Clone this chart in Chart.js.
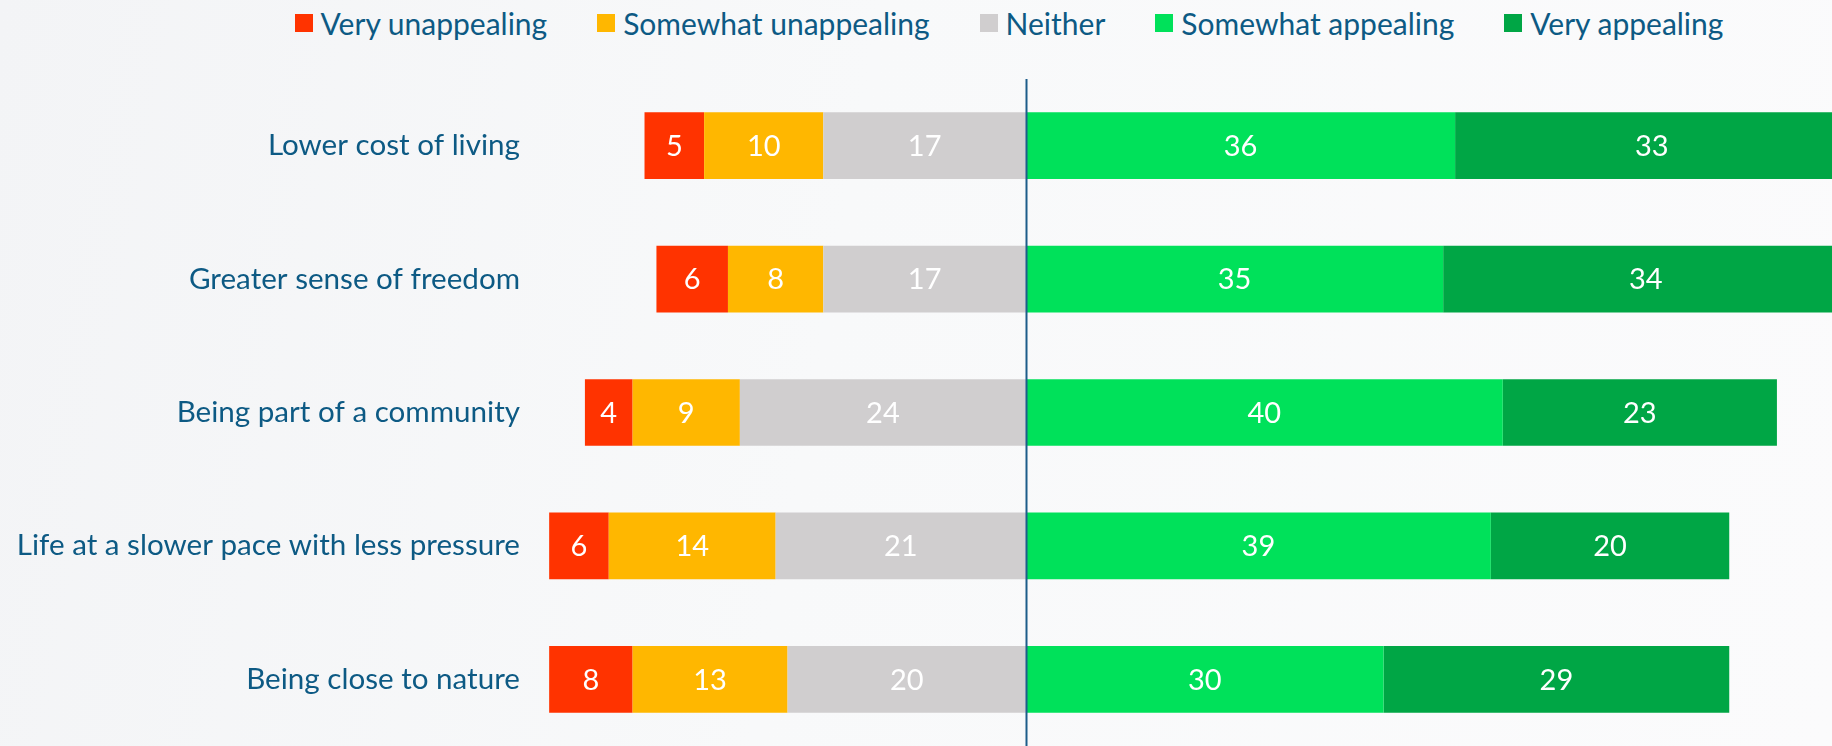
<!DOCTYPE html>
<html>
<head>
<meta charset="utf-8">
<script src="https://cdn.jsdelivr.net/npm/chart.js@4/dist/chart.umd.min.js"></script>
<style>
  html, body { margin: 0; padding: 0; }
  body {
    width: 1832px; height: 746px; overflow: hidden; position: relative;
    background: linear-gradient(100deg, #f3f4f6 0%, #f8f9fa 45%, #fbfbfc 100%);
    font-family: Lato, "Open Sans", sans-serif;
  }
  #legend {
    position: absolute; left: 186px; right: 0; top: 3px; height: 40px;
    display: flex; justify-content: center; align-items: center; gap: 50px;
    color: #0d5a84; font-size: 30px;
  }
  .item { display: flex; align-items: center; white-space: nowrap; }
  .swatch { width: 18px; height: 18px; margin-right: 8px; }
  #wrap { position: absolute; left: 0; top: 0; width: 1832px; height: 746px; }
</style>
</head>
<body>
<div id="legend"></div>
<div id="wrap"><canvas id="chart"></canvas></div>
<script>
// categories, top to bottom
const categories = [
  'Lower cost of living',
  'Greater sense of freedom',
  'Being part of a community',
  'Life at a slower pace with less pressure',
  'Being close to nature'
];

// bar lengths (percent)
const veryUnappealing     = [5, 6, 4, 5, 7];
const somewhatUnappealing = [10, 8, 9, 14, 13];
const neither             = [17, 17, 24, 21, 20];
const somewhatAppealing   = [36, 35, 40, 39, 30];
const veryAppealing       = [33, 34, 23, 20, 29];

// numbers printed on the red segments (rounded differently in the source)
const veryUnappealingShown = [5, 6, 4, 6, 8];

const seriesNames  = ['Very unappealing', 'Somewhat unappealing', 'Neither', 'Somewhat appealing', 'Very appealing'];
const seriesColors = ['#ff3300', '#ffb700', '#d0cecf', '#00e15a', '#00a645'];

const TEXT_COLOR = '#0d5a84';
const FONT = 'Lato, "Open Sans", sans-serif';

// html legend
const legendEl = document.getElementById('legend');
seriesNames.forEach((name, i) => {
    legendEl.innerHTML += `<div class="item"><span class="swatch" style="background:${seriesColors[i]}"></span>${name}</div>`;
});

// negatives stack outward from zero in dataset order, so Neither goes first
const datasets = [
    { label: seriesNames[2], data: neither.map(v => -v), shown: neither, backgroundColor: seriesColors[2] },
    { label: seriesNames[1], data: somewhatUnappealing.map(v => -v), shown: somewhatUnappealing, backgroundColor: seriesColors[1] },
    { label: seriesNames[0], data: veryUnappealing.map(v => -v), shown: veryUnappealingShown, backgroundColor: seriesColors[0] },
    { label: seriesNames[3], data: somewhatAppealing, shown: somewhatAppealing, backgroundColor: seriesColors[3] },
    { label: seriesNames[4], data: veryAppealing, shown: veryAppealing, backgroundColor: seriesColors[4] }
];
datasets.forEach(d => { d.barPercentage = 1; d.categoryPercentage = 0.5; d.borderWidth = 0; });

const barLabels = {
    id: 'barLabels',
    afterDatasetsDraw(chart) {
        const ctx = chart.ctx;
        ctx.save();
        ctx.fillStyle = '#ffffff';
        ctx.font = `29px ${FONT}`;
        ctx.textAlign = 'center';
        ctx.textBaseline = 'middle';
        chart.data.datasets.forEach((ds, di) => {
            chart.getDatasetMeta(di).data.forEach((bar, i) => {
                const cx = (bar.x + bar.base) / 2;
                ctx.fillText(String(ds.shown[i]), cx, bar.y + 1);
            });
        });
        ctx.restore();
    }
};

const zeroLine = {
    id: 'zeroLine',
    afterDatasetsDraw(chart) {
        const x = Math.round(chart.scales.x.getPixelForValue(0)) + 0.5;
        const { top, bottom } = chart.chartArea;
        const ctx = chart.ctx;
        ctx.save();
        ctx.strokeStyle = '#1d5d8a';
        ctx.lineWidth = 2;
        ctx.beginPath();
        ctx.moveTo(x, top);
        ctx.lineTo(x, bottom);
        ctx.stroke();
        ctx.restore();
    }
};

new Chart(document.getElementById('chart'), {
    type: 'bar',
    data: { labels: categories, datasets },
    options: {
        indexAxis: 'y',
        responsive: true,
        maintainAspectRatio: false,
        animation: false,
        layout: { padding: { top: 79, left: 0, right: 0, bottom: 0 } },
        plugins: { legend: { display: false }, tooltip: { enabled: false } },
        scales: {
            x: {
                stacked: true, display: false,
                min: -41.02, max: 67.62
            },
            y: {
                stacked: true,
                grid: { display: false, drawTicks: false },
                border: { display: false },
                ticks: { color: TEXT_COLOR, padding: 17, font: { family: FONT, size: 29.6 } },
                afterFit(scale) {
                    scale.width = 537;
                    scale.paddingTop = 0;
                    scale.paddingBottom = 0;
                }
            }
        }
    },
    plugins: [barLabels, zeroLine]
});
</script>
</body>
</html>
